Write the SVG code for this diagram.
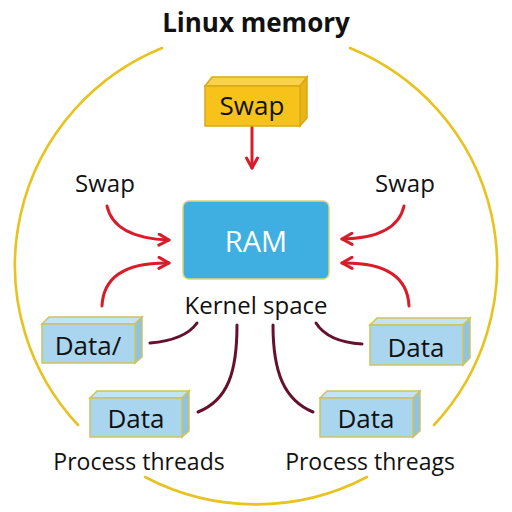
<svg xmlns="http://www.w3.org/2000/svg" width="512" height="512" viewBox="0 0 512 512">
<defs>
<style>
.t{font-family:"Open Sans","Noto Sans","Liberation Sans",sans-serif;fill:#111;text-anchor:middle}
.ring{fill:none;stroke:#E8C21E;stroke-width:2.6;stroke-linecap:round}
.red{fill:none;stroke:#D91C2A;stroke-width:3;stroke-linecap:round}
.dark{fill:none;stroke:#661030;stroke-width:3;stroke-linecap:round}
.bf{fill:#A9D5EF;stroke:#CEC45E;stroke-width:1.5}
.bt{fill:#C4E3F5;stroke:#CEC45E;stroke-width:1.5}
.br{fill:#8FC3E3;stroke:#CEC45E;stroke-width:1.5}
</style>
<marker id="ah" viewBox="0 0 14 14" refX="12" refY="7" markerWidth="14" markerHeight="14" markerUnits="userSpaceOnUse" orient="auto">
<path d="M2,1.5 L12,7 L2,12.5" fill="none" stroke="#D91C2A" stroke-width="3" stroke-linecap="round" stroke-linejoin="round"/>
</marker>
</defs>
<rect width="512" height="512" fill="#fff"/>
<g id="ring">
<path class="ring" d="M162,48 A237,235 0 0 0 78,425"/>
<path class="ring" d="M145,477 A237,235 0 0 0 367,477"/>
<path class="ring" d="M350,48 A237,235 0 0 1 434,425"/>
</g>
<text class="t" x="256" y="32" font-size="26" font-weight="bold">Linux memory</text>
<g id="connectors">
<path class="red" d="M252,127 L252,168" marker-end="url(#ah)"/>
<path class="red" d="M107,206 Q114,238 169,240" marker-end="url(#ah)"/>
<path class="red" d="M102,306 Q104,262 169,263" marker-end="url(#ah)"/>
<path class="red" d="M404,206 Q397,238 342,239" marker-end="url(#ah)"/>
<path class="red" d="M409,306 Q407,262 342,263" marker-end="url(#ah)"/>
<path class="dark" d="M150,343 Q185,340 197,323"/>
<path class="dark" d="M316,323 Q328,342 362,344"/>
<path class="dark" d="M237,325 C237,372 228,400 198,412"/>
<path class="dark" d="M273,325 C273,372 284,400 313,412"/>
</g>
<g id="swap-top">
<polygon points="205,86 212,77 307,77 300,86" fill="#F9D24A" stroke="#D9A91A" stroke-width="1.5"/>
<polygon points="300,86 307,77 307,118 300,126" fill="#E9B512" stroke="#D9A91A" stroke-width="1.5"/>
<rect x="205" y="86" width="95" height="40" fill="#F7C21A" stroke="#D9A91A" stroke-width="1.5"/>
<text class="t" x="252" y="115" font-size="26">Swap</text>
</g>
<g id="ram">
<rect x="183" y="201" width="146" height="78" rx="6" fill="#3FAEE0" stroke="#D9D87A" stroke-width="1.5"/>
<text class="t" x="256" y="252" font-size="29" style="fill:#fff">RAM</text>
</g>
<text class="t" x="256" y="314" font-size="24">Kernel space</text>
<text class="t" x="105" y="192" font-size="24">Swap</text>
<text class="t" x="405" y="192" font-size="24">Swap</text>
<g id="data-left">
<polygon class="bt" points="42,324 49,317 142,317 135,324"/>
<polygon class="br" points="135,324 142,317 142,357 135,363"/>
<rect class="bf" x="42" y="324" width="93" height="39"/>
<text class="t" x="88" y="355" font-size="26">Data/</text>
</g>
<g id="data-right">
<polygon class="bt" points="370,325 377,318 470,318 463,325"/>
<polygon class="br" points="463,325 470,318 470,358 463,365"/>
<rect class="bf" x="370" y="325" width="93" height="40"/>
<text class="t" x="416" y="357" font-size="26">Data</text>
</g>
<g id="data-bl">
<polygon class="bt" points="90,398 97,391 189,391 182,398"/>
<polygon class="br" points="182,398 189,391 189,431 182,437"/>
<rect class="bf" x="90" y="398" width="92" height="39"/>
<text class="t" x="136" y="428" font-size="26">Data</text>
</g>
<g id="data-br">
<polygon class="bt" points="320,398 327,391 420,391 413,398"/>
<polygon class="br" points="413,398 420,391 420,431 413,437"/>
<rect class="bf" x="320" y="398" width="93" height="39"/>
<text class="t" x="366" y="428" font-size="26">Data</text>
</g>
<text class="t" x="139" y="470" font-size="23">Process threads</text>
<text class="t" x="370" y="470" font-size="23">Process threags</text>
</svg>
